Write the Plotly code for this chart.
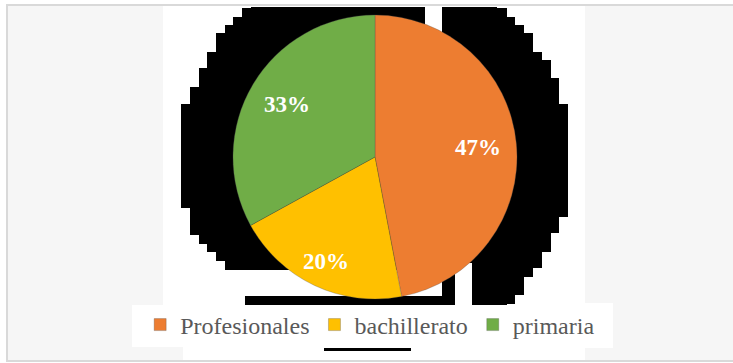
import math
import plotly.graph_objects as go

labels = ["Profesionales", "bachillerato", "primaria"]
values = [47, 20, 33]
colors = ["#ED7D31", "#FFC000", "#70AD47"]

W, H = 733, 363
SERIF = "Times New Roman, Liberation Serif, serif"

def px(x):
    return x / W

def py(y):
    return 1 - y / H

def rect(x0, y0, x1, y1, color):
    return dict(type="rect", xref="paper", yref="paper", x0=px(x0), x1=px(x1),
                y0=py(y1), y1=py(y0), fillcolor=color, line=dict(width=0), layer="below")

# decorative black backdrop outline (pixel coords)
outline = [(251, 7), (497, 7), (497, 8), (507, 8), (507, 17), (515, 17), (515, 25), (524, 25),
           (524, 33), (533, 33), (533, 52), (542, 52), (542, 60), (551, 60), (551, 78), (559, 78),
           (559, 104), (568, 104), (568, 217), (559, 217), (559, 233), (551, 233), (551, 252),
           (542, 252), (542, 268), (533, 268), (533, 277), (524, 277), (524, 295), (515, 295),
           (515, 304), (507, 304), (507, 305), (245, 305), (245, 296), (225, 296), (225, 261),
           (216, 261), (216, 252), (207, 252), (207, 244), (199, 244), (199, 235), (190, 235),
           (190, 208), (181, 208), (181, 104), (190, 104), (190, 87), (199, 87), (199, 68),
           (207, 68), (207, 52), (216, 52), (216, 33), (225, 33), (225, 25), (233, 25), (233, 17),
           (242, 17), (242, 8), (251, 8)]
path = "M " + " L ".join(f"{px(x):.5f},{py(y):.5f}" for x, y in outline) + " Z"

hatch = "#f6f6f6"
shapes = [
    rect(8, 6, 163, 305, hatch), rect(8, 305, 132, 347, hatch), rect(8, 347, 183, 361, hatch),
    rect(585, 6, 733, 303, hatch), rect(613, 303, 733, 348, hatch), rect(585, 348, 733, 361, hatch),
    dict(type="path", xref="paper", yref="paper", path=path, fillcolor="black",
         line=dict(width=0), layer="below"),
    rect(425, 6, 442, 60, "white"),
    rect(225, 270, 442, 296, "white"),
    rect(455, 263, 472, 306, "white"),
    rect(324, 348, 411, 351, "black"),
    # frame
    rect(6, 4, 733, 6, "#d9d9d9"),
    rect(6, 4, 8, 362, "#d9d9d9"),
    rect(6, 360, 733, 362, "#d9d9d9"),
]

cx, cy, r = 375, 157, 142
fig = go.Figure(go.Pie(
    labels=labels, values=values, sort=False, direction="clockwise", rotation=0,
    marker=dict(colors=colors, line=dict(color="rgba(80,80,80,0.5)", width=0.6)),
    textinfo="none",
    domain=dict(x=[px(cx - r), px(cx + r)], y=[py(cy + r), py(cy - r)]),
    hoverinfo="skip",
))

# data labels placed along each slice's mid-angle (Excel-style placement)
label_radius = [0.73, 0.81, 0.72]
total = sum(values)
cum = 0
annotations = []
for v, f in zip(values, label_radius):
    mid = (cum + v / 2) / total * 2 * math.pi
    cum += v
    lx = cx + f * r * math.sin(mid)
    ly = cy - f * r * math.cos(mid)
    annotations.append(dict(x=px(lx), y=py(ly), xref="paper", yref="paper",
                            xanchor="center", yanchor="middle",
                            text=f"{round(v / total * 100)}%", showarrow=False,
                            font=dict(family=SERIF, size=23, color="white", weight="bold")))

fig.update_layout(
    width=W, height=H, margin=dict(l=0, r=0, t=0, b=0),
    paper_bgcolor="white", plot_bgcolor="white",
    shapes=shapes, annotations=annotations,
    showlegend=True,
    legend=dict(orientation="h", x=0.505, xanchor="center", y=py(325), yanchor="middle",
                font=dict(family=SERIF, size=24, color="#595959"),
                bgcolor="rgba(0,0,0,0)", itemwidth=30, tracegroupgap=0),
)

fig.write_html("out.html")
